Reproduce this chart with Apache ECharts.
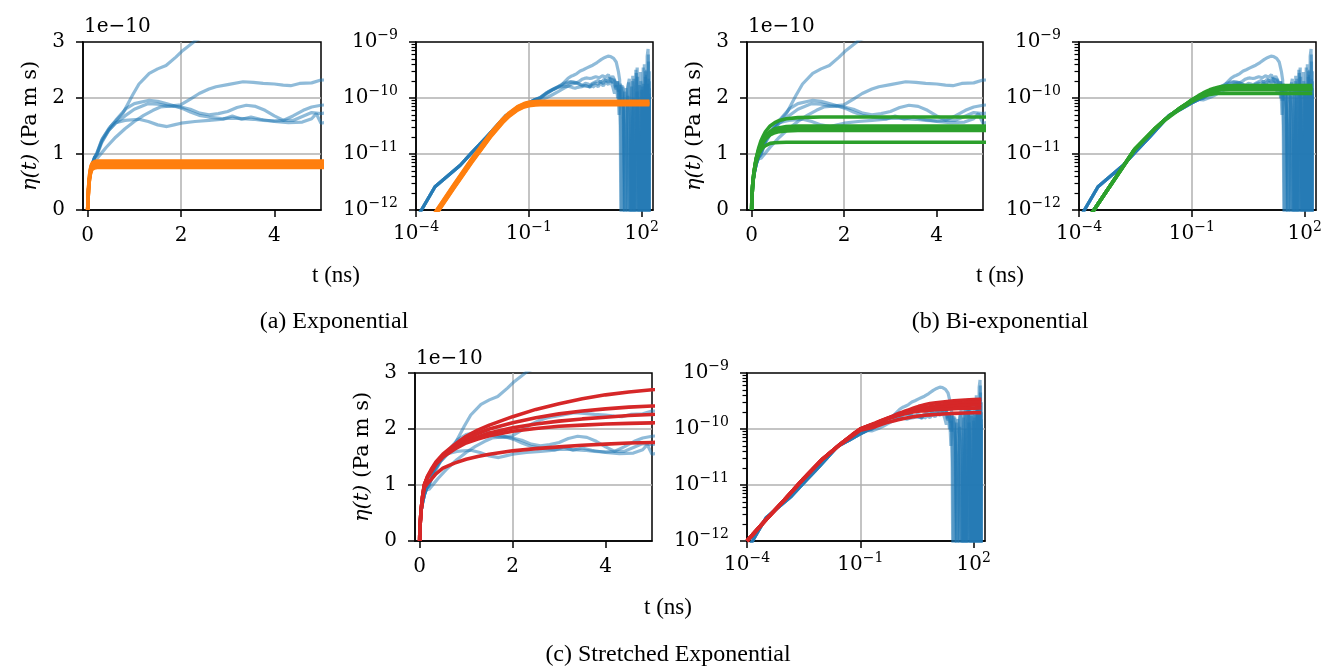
<!DOCTYPE html>
<html lang="en">
<head>
  <meta charset="UTF-8">
  <title>Green-Kubo viscosity fits</title>
  <script src="https://cdn.jsdelivr.net/npm/echarts@6/dist/echarts.min.js"></script>
  <style>
    html, body { margin: 0; background: #fff; }
    #chart { width: 1325px; height: 668px; }
  </style>
</head>
<body>
  <div id="chart"></div>
  <script>
    // all viscosity values in units of 1e-10 Pa m s, time in ns
    // running integrals (shared short-time part, then one list per run)
    const blueEarly = [[1e-4, 0.0068], [3.2e-4, 0.026], [1.5e-3, 0.063], [3e-3, 0.105], [7.5e-3, 0.20],
      [0.025, 0.49], [0.05, 0.63], [0.1, 0.82], [0.15, 0.94]];
    const runA = [[0.2, 1.02], [0.32, 1.28], [0.5, 1.5], [0.75, 1.72], [0.96, 2.05], [1.1, 2.25], [1.32, 2.44],
      [1.5, 2.52], [1.68, 2.58], [1.89, 2.73], [2.04, 2.85], [2.32, 3.03], [2.8, 3.2], [3.5, 3.45], [4.2, 3.65],
      [5, 3.85], [6.5, 4.3], [8.5, 4.9], [10.5, 5.3], [12.7, 5.6], [15, 5.5], [18, 5.1], [21, 4.4], [24, 3.0],
      [26, 2.1], [27, 0.3], [28.5, 0.001], [33, 0.8], [38, 1.5], [44, 0.6], [50, 0.001], [58, 2.5], [63, 0.001],
      [70, 1.2], [76, 3.5], [82, 0.001], [95, 2.0], [105, 0.001], [118, 4.0], [128, 0.001], [140, 5.5],
      [148, 7.5], [155, 0.001], [160, 3.0]];
    const runB = [[0.2, 0.92], [0.3, 1.02], [0.4, 1.12], [0.6, 1.3], [0.8, 1.45], [1.0, 1.58], [1.2, 1.69],
      [1.4, 1.78], [1.56, 1.84], [1.8, 1.86], [2.0, 1.88], [2.2, 1.98], [2.39, 2.08], [2.6, 2.16], [2.75, 2.2],
      [3.0, 2.24], [3.33, 2.29], [3.55, 2.28], [3.76, 2.26], [4.0, 2.25], [4.19, 2.23], [4.35, 2.22], [4.54, 2.26],
      [4.8, 2.27], [5.0, 2.32], [6, 2.4], [7.5, 2.3], [9, 2.5], [11, 2.35], [13, 2.6], [15, 2.2], [17, 2.45],
      [19, 2.1], [21, 1.6], [23, 2.0], [25, 0.9], [27, 1.8], [30, 1.2], [34, 0.3], [37, 0.001], [42, 1.5],
      [47, 2.2], [52, 0.001], [60, 1.0], [66, 0.001], [72, 2.8], [80, 0.001], [88, 1.7], [96, 0.001], [110, 3.5],
      [120, 0.001], [132, 2.6], [145, 0.001], [152, 4.5], [160, 0.001]];
    const runC = [[0.2, 1.02], [0.3, 1.25], [0.45, 1.45], [0.6, 1.6], [0.82, 1.81], [1.0, 1.9], [1.32, 1.96],
      [1.5, 1.94], [1.68, 1.9], [1.85, 1.86], [2.04, 1.81], [2.2, 1.75], [2.39, 1.69], [2.6, 1.66], [2.9, 1.63],
      [3.1, 1.64], [3.33, 1.63], [3.55, 1.62], [3.76, 1.6], [4.0, 1.59], [4.19, 1.6], [4.4, 1.68], [4.62, 1.78],
      [4.8, 1.84], [5.0, 1.87], [6, 1.95], [7, 2.05], [8.5, 1.9], [10, 2.15], [12, 2.0], [14, 2.3], [16, 1.9],
      [18, 2.2], [20, 1.5], [22, 2.0], [24, 1.3], [26, 1.7], [29, 0.9], [32, 1.6], [36, 0.001], [40, 0.8],
      [45, 1.9], [50, 0.4], [55, 0.001], [62, 2.2], [68, 0.001], [75, 1.3], [84, 0.001], [92, 2.9], [100, 0.001],
      [112, 1.8], [122, 0.001], [135, 3.2], [142, 0.001], [150, 6.0], [156, 0.001], [160, 2.0]];
    const runD = [[0.2, 0.98], [0.3, 1.2], [0.45, 1.42], [0.6, 1.56], [0.8, 1.6], [1.1, 1.62], [1.3, 1.58],
      [1.5, 1.52], [1.7, 1.49], [1.85, 1.52], [2.0, 1.55], [2.3, 1.58], [2.6, 1.6], [2.9, 1.62], [3.1, 1.68],
      [3.3, 1.62], [3.5, 1.66], [3.7, 1.62], [4.0, 1.58], [4.3, 1.56], [4.6, 1.57], [4.8, 1.63], [4.9, 1.72],
      [5.0, 1.55], [6, 1.7], [7, 1.6], [8, 1.85], [9.5, 1.65], [11, 1.9], [13, 1.75], [15, 2.0], [17, 1.6],
      [19, 1.2], [21, 1.7], [23, 1.0], [26, 1.4], [28, 0.2], [30, 0.001], [35, 1.3], [40, 0.2], [46, 0.001],
      [54, 1.6], [60, 0.001], [70, 3.2], [78, 0.6], [86, 0.001], [100, 1.4], [108, 0.001], [125, 2.4],
      [135, 0.001], [146, 1.8], [153, 0.001], [160, 1.2]];
    const runE = [[0.2, 1.0], [0.3, 1.22], [0.45, 1.42], [0.6, 1.55], [0.8, 1.68], [1.0, 1.8], [1.3, 1.9],
      [1.5, 1.89], [1.7, 1.86], [2.0, 1.84], [2.2, 1.8], [2.4, 1.73], [2.6, 1.7], [2.8, 1.72], [3.0, 1.76],
      [3.2, 1.83], [3.4, 1.87], [3.6, 1.85], [3.8, 1.78], [4.0, 1.68], [4.2, 1.6], [4.4, 1.6], [4.6, 1.67],
      [4.8, 1.74], [5.0, 1.72], [6, 1.85], [7, 1.75], [8, 2.0], [9.5, 1.8], [11, 2.1], [13, 1.9], [15, 2.25],
      [17, 1.85], [19, 2.1], [21, 1.4], [23, 1.9], [25, 0.5], [27, 1.2], [30, 1.7], [33, 0.6], [38, 0.001],
      [43, 1.1], [48, 0.001], [57, 2.0], [64, 0.001], [78, 2.4], [90, 0.001], [104, 1.6], [115, 0.001],
      [128, 3.0], [138, 0.001], [150, 2.2], [158, 0.001], [160, 1.5]];

    // exponential fits
    const expT = [0, 1e-4, 3e-4, 1e-3, 3e-3, 0.01, 0.02, 0.03, 0.05, 0.075, 0.1, 0.15, 0.2, 0.3, 5, 160];
    const exp1 = [0, 0.0028, 0.0084, 0.028, 0.081, 0.242, 0.417, 0.543, 0.70, 0.796, 0.84, 0.866, 0.873, 0.875, 0.875, 0.875];
    const exp2 = [0, 0.0027, 0.0082, 0.027, 0.079, 0.236, 0.407, 0.530, 0.684, 0.778, 0.821, 0.846, 0.853, 0.855, 0.855, 0.855];
    const exp3 = [0, 0.0026, 0.0077, 0.0254, 0.074, 0.221, 0.381, 0.496, 0.64, 0.728, 0.768, 0.792, 0.798, 0.80, 0.80, 0.80];
    const exp4 = [0, 0.0025, 0.0075, 0.0248, 0.072, 0.215, 0.371, 0.484, 0.624, 0.71, 0.749, 0.772, 0.778, 0.78, 0.78, 0.78];
    const exp5 = [0, 0.0024, 0.0073, 0.0242, 0.070, 0.21, 0.362, 0.471, 0.608, 0.692, 0.73, 0.752, 0.758, 0.76, 0.76, 0.76];

    // bi-exponential fits
    const biT = [0, 1e-4, 3e-4, 1e-3, 3e-3, 0.01, 0.02, 0.03, 0.05, 0.075, 0.1, 0.15, 0.2, 0.25, 0.3, 0.4, 0.5, 0.6, 0.75, 1, 1.5, 5, 160];
    const bi1 = [0, 0.004, 0.012, 0.040, 0.12, 0.275, 0.42, 0.52, 0.67, 0.81, 0.93, 1.10, 1.23, 1.32, 1.40, 1.50, 1.56, 1.60, 1.63, 1.65, 1.66, 1.66, 1.66];
    const bi2 = [0, 0.004, 0.012, 0.040, 0.12, 0.275, 0.42, 0.52, 0.67, 0.80, 0.92, 1.07, 1.18, 1.26, 1.32, 1.40, 1.45, 1.47, 1.49, 1.50, 1.50, 1.50, 1.50];
    const bi3 = [0, 0.004, 0.012, 0.040, 0.12, 0.275, 0.42, 0.52, 0.67, 0.80, 0.91, 1.06, 1.16, 1.24, 1.30, 1.37, 1.41, 1.43, 1.45, 1.46, 1.46, 1.46, 1.46];
    const bi4 = [0, 0.004, 0.012, 0.040, 0.12, 0.275, 0.42, 0.52, 0.67, 0.79, 0.90, 1.05, 1.14, 1.21, 1.27, 1.34, 1.38, 1.40, 1.41, 1.42, 1.42, 1.42, 1.42];
    const bi5 = [0, 0.004, 0.012, 0.040, 0.12, 0.275, 0.41, 0.50, 0.64, 0.76, 0.86, 0.99, 1.07, 1.12, 1.15, 1.19, 1.20, 1.205, 1.21, 1.21, 1.21, 1.21, 1.21];

    // stretched exponential fits
    const strT = [0, 1e-4, 3e-4, 1e-3, 3e-3, 0.01, 0.03, 0.06, 0.1, 0.17, 0.25, 0.35, 0.5, 0.75, 1, 1.25, 1.5, 2, 2.5,
      3, 3.5, 4, 4.5, 5, 7, 10, 20, 30, 60, 100, 160];
    const str1 = [0, 0.010, 0.023, 0.055, 0.125, 0.29, 0.54, 0.78, 1.0, 1.16, 1.28, 1.41, 1.55, 1.72, 1.87, 1.98,
      2.07, 2.22, 2.35, 2.45, 2.54, 2.61, 2.66, 2.70, 2.84, 2.95, 3.1, 3.2, 3.3, 3.35, 3.4];
    const str2 = [0, 0.010, 0.023, 0.055, 0.125, 0.29, 0.54, 0.78, 1.0, 1.15, 1.26, 1.39, 1.53, 1.69, 1.82, 1.92,
      2.0, 2.11, 2.2, 2.27, 2.32, 2.36, 2.39, 2.41, 2.5, 2.6, 2.75, 2.85, 2.95, 3.0, 3.02];
    const str3 = [0, 0.010, 0.023, 0.055, 0.125, 0.29, 0.54, 0.78, 1.0, 1.14, 1.25, 1.38, 1.52, 1.67, 1.78, 1.86,
      1.93, 2.02, 2.09, 2.14, 2.18, 2.21, 2.24, 2.26, 2.33, 2.4, 2.5, 2.58, 2.64, 2.68, 2.7];
    const str4 = [0, 0.010, 0.023, 0.055, 0.125, 0.29, 0.54, 0.77, 0.99, 1.13, 1.24, 1.37, 1.50, 1.64, 1.75, 1.82,
      1.88, 1.96, 2.01, 2.05, 2.07, 2.09, 2.10, 2.11, 2.16, 2.2, 2.26, 2.3, 2.34, 2.36, 2.38];
    const str5 = [0, 0.010, 0.023, 0.055, 0.125, 0.29, 0.53, 0.74, 0.95, 1.03, 1.10, 1.20, 1.30, 1.39, 1.46, 1.51,
      1.55, 1.61, 1.65, 1.68, 1.71, 1.73, 1.75, 1.76, 1.79, 1.82, 1.87, 1.9, 1.93, 1.95, 1.96];

    const linTicks = [0, 2, 4];
    const logXTicks = [1e-4, 1e-1, 1e2];
    const minorY = [0.02, 0.03, 0.04, 0.05, 0.06, 0.07, 0.08, 0.09, 0.2, 0.3, 0.4, 0.5, 0.6, 0.7, 0.8, 0.9,
      2, 3, 4, 5, 6, 7, 8, 9];

    const BLUE = '#1f77b4', ORANGE = '#ff7f0e', GREEN = '#2ca02c', RED = '#d62728';
    const TF = 'DejaVu Serif';

    var chart = echarts.init(document.getElementById('chart'));

    const grids = [
      { left: 83, top: 42, width: 238, height: 168 },
      { left: 416, top: 42, width: 237, height: 168 },
      { left: 747, top: 42, width: 236, height: 168 },
      { left: 1079, top: 42, width: 237, height: 168 },
      { left: 415, top: 373, width: 237, height: 168 },
      { left: 747, top: 373, width: 238, height: 168 }
    ].map(g => Object.assign(g, { show: true, borderColor: '#000', borderWidth: 1.5 }));

    const rich = {
      b: { fontFamily: TF, fontSize: 20, color: '#000' },
      s: { fontFamily: TF, fontSize: 14, color: '#000', padding: [0, 0, 14, 0] }
    };
    function sup(e) {
      return '{b|10}{s|' + (e < 0 ? '\u2212' + (-e) : e) + '}';
    }
    const line = { show: true, onZero: false, lineStyle: { color: '#000', width: 1.5 } };
    const split = { show: true, showMinLine: false, showMaxLine: false, lineStyle: { color: '#b0b0b0', width: 1.5 } };
    const tick = { show: true, length: 7, lineStyle: { color: '#000', width: 1.5 } };

    const xAxes = [], yAxes = [];
    [0, 1, 2, 3, 4, 5].forEach(g => {
      const isLog = g % 2 === 1;
      if (!isLog) {
        xAxes.push({
          type: 'value', gridIndex: g, min: -0.1, max: 5,
          axisLine: line, splitLine: split,
          axisTick: Object.assign({ customValues: linTicks }, tick),
          axisLabel: { customValues: linTicks, margin: 16, color: '#000', fontFamily: TF, fontSize: 20 }
        });
        yAxes[g] = {
          type: 'value', gridIndex: g, min: 0, max: 3, interval: 1,
          axisLine: line, splitLine: split, axisTick: tick,
          axisLabel: { margin: 18, color: '#000', fontFamily: TF, fontSize: 20 },
          name: '{i|\u03b7(t)} (Pa m s)', nameLocation: 'middle', nameRotate: 90, nameGap: 42,
          nameTextStyle: {
            fontFamily: TF, fontSize: 21, color: '#000',
            rich: { i: { fontFamily: TF, fontStyle: 'italic', fontSize: 21, color: '#000' } }
          }
        };
      } else {
        xAxes.push({
          type: 'log', logBase: 10, gridIndex: g, min: 1e-4, max: 200,
          axisLine: line, splitLine: split,
          axisTick: Object.assign({ customValues: logXTicks }, tick),
          axisLabel: {
            customValues: logXTicks, margin: 10, rich: rich,
            formatter: v => sup(Math.round(Math.log10(v)))
          }
        });
        yAxes[g] = {
          type: 'log', logBase: 10, gridIndex: g, min: 0.01, max: 10, position: 'left',
          axisLine: line, splitLine: split, axisTick: tick,
          axisLabel: { margin: 18, rich: rich, formatter: v => sup(Math.round(Math.log10(v)) - 10) }
        };
      }
    });
    // minor ticks on the log y axes: a right-side axis shifted onto the left edge, ticks pointing outward
    [1, 3, 5].forEach(g => {
      yAxes.push({
        type: 'log', logBase: 10, gridIndex: g, min: 0.01, max: 10, position: 'right', offset: -grids[g].width,
        axisLine: { show: false }, axisLabel: { show: false }, splitLine: { show: false },
        axisTick: { show: true, inside: true, length: 4.5, customValues: minorY, lineStyle: { color: '#000', width: 1.2 } }
      });
    });

    const runs = [runA, runB, runC, runD, runE];
    const fams = [
      { t: expT, lines: [exp1, exp2, exp3, exp4, exp5], color: ORANGE },
      { t: biT, lines: [bi1, bi2, bi3, bi4, bi5], color: GREEN },
      { t: strT, lines: [str1, str2, str3, str4, str5], color: RED }
    ];

    const series = [];
    fams.forEach((fam, k) => {
      [2 * k, 2 * k + 1].forEach(g => {
        const isLog = g % 2 === 1;
        runs.forEach(run => {
          let d = blueEarly.concat(run);
          if (!isLog) d = [[0, 0]].concat(d);
          series.push({
            type: 'line', xAxisIndex: g, yAxisIndex: g, data: d, symbol: 'none', z: 2,
            lineStyle: { color: BLUE, width: 3.2, opacity: 0.5 }, silent: true, clip: true
          });
        });
        fam.lines.forEach(vals => {
          let d = fam.t.map((t, i) => [t, vals[i]]);
          if (isLog) d = d.filter(p => p[0] > 0);
          series.push({
            type: 'line', xAxisIndex: g, yAxisIndex: g, data: d, symbol: 'none', z: 3,
            lineStyle: { color: fam.color, width: 3.6, join: 'round' }, silent: true, clip: true
          });
        });
      });
    });

    const tickFont = '20px "DejaVu Serif"';
    const capFont = '24px "Liberation Serif"';
    const labFont = '23px "Liberation Serif"';
    function txt(s, x, y, font, align) {
      return { type: 'text', x: x, y: y, silent: true,
        style: { text: s, font: font, fill: '#000', textAlign: align || 'center', textVerticalAlign: 'middle' } };
    }

    chart.setOption({
      animation: false,
      grid: grids,
      xAxis: xAxes,
      yAxis: yAxes,
      series: series,
      graphic: [
        txt('1e\u221210', 84, 27, tickFont, 'left'),
        txt('1e\u221210', 748, 27, tickFont, 'left'),
        txt('1e\u221210', 416, 359, tickFont, 'left'),
        txt('t (ns)', 336, 276, labFont),
        txt('t (ns)', 1000, 276, labFont),
        txt('t (ns)', 668, 608, labFont),
        txt('(a) Exponential', 334, 322, capFont),
        txt('(b) Bi-exponential', 1000, 322, capFont),
        txt('(c) Stretched Exponential', 668, 655, capFont)
      ]
    });
  </script>
</body>
</html>
